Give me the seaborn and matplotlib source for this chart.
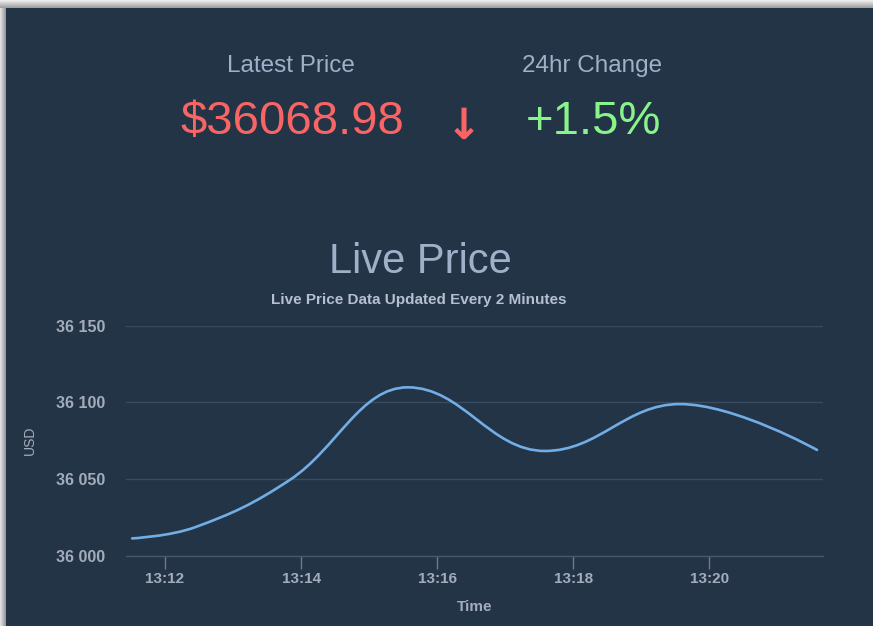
import numpy as np
import pandas as pd
import matplotlib
matplotlib.use("Agg")
import matplotlib.pyplot as plt
import matplotlib.dates as mdates
from matplotlib.path import Path
from matplotlib.patches import PathPatch, Rectangle
from matplotlib.ticker import FuncFormatter, MultipleLocator
import seaborn as sns

# ---- data ----
times = ["13:11:31", "13:12:27", "13:13:50", "13:15:34", "13:17:35", "13:19:34", "13:21:35"]
prices = [36011.3, 36018.7, 36049.4, 36109.8, 36068.3, 36098.9, 36068.98]
latest_price = 36068.98
change_24h = 1.5
y_ticks = [36000, 36050, 36100, 36150]

BG = "#243447"
LINE = "#72aee6"
TXT = "#a3acba"
HEAD = "#9fb0c8"

sns.set_theme(style="dark", rc={"axes.facecolor": BG, "figure.facecolor": "#d4d4d4"})
plt.rcParams["font.family"] = ["Liberation Sans", "DejaVu Sans"]


def spline_path(xs, ys, smoothing=1.5):
    """Highcharts-style spline as cubic Bezier segments."""
    n = len(xs)
    lc, rc = [None] * n, [None] * n
    d = smoothing + 1
    for i in range(1, n - 1):
        lx = (smoothing * xs[i] + xs[i - 1]) / d
        ly = (smoothing * ys[i] + ys[i - 1]) / d
        rx = (smoothing * xs[i] + xs[i + 1]) / d
        ry = (smoothing * ys[i] + ys[i + 1]) / d
        if rx != lx:
            corr = (ry - ly) * (rx - xs[i]) / (rx - lx) + ys[i] - ry
            ly += corr; ry += corr
        if ly > ys[i - 1] and ly > ys[i]:
            ly = max(ys[i - 1], ys[i]); ry = 2 * ys[i] - ly
        elif ly < ys[i - 1] and ly < ys[i]:
            ly = min(ys[i - 1], ys[i]); ry = 2 * ys[i] - ly
        if ry > ys[i + 1] and ry > ys[i]:
            ry = max(ys[i + 1], ys[i]); ly = 2 * ys[i] - ry
        elif ry < ys[i + 1] and ry < ys[i]:
            ry = min(ys[i + 1], ys[i]); ly = 2 * ys[i] - ry
        lc[i], rc[i] = (lx, ly), (rx, ry)
    verts, codes = [(xs[0], ys[0])], [Path.MOVETO]
    for i in range(1, n):
        verts += [rc[i - 1] or (xs[i - 1], ys[i - 1]), lc[i] or (xs[i], ys[i]), (xs[i], ys[i])]
        codes += [Path.CURVE4] * 3
    return Path(verts, codes)


df = pd.DataFrame({"time": pd.to_datetime(["2021-06-01 " + t for t in times]), "price": prices})
xnum = mdates.date2num(df["time"].dt.to_pydatetime())

W, H = 873, 626
fig = plt.figure(figsize=(W / 100, H / 100), dpi=100)

# shadowed frame + dark panel
top_shades = np.linspace(0.93, 0.62, 8)
for i, g in enumerate(top_shades):
    fig.patches.append(Rectangle((0, 1 - (i + 1) / H), 1, 1 / H, transform=fig.transFigure,
                                 facecolor=str(g), edgecolor="none", zorder=-3))
left_shades = np.linspace(0.88, 0.6, 6)
for j, g in enumerate(left_shades):
    fig.patches.append(Rectangle((j / W, 0), 1 / W, 1 - 8 / H, transform=fig.transFigure,
                                 facecolor=str(g), edgecolor="none", zorder=-2))
fig.patches.append(Rectangle((6 / W, 0), 1, 1 - 8 / H, transform=fig.transFigure,
                             facecolor=BG, edgecolor="none", zorder=-1))

# header
fig.text(291 / W, 1 - 71.7 / H, "Latest Price", ha="center", va="baseline", fontsize=17.5, color=HEAD)
fig.text(592.5 / W, 1 - 71.7 / H, "24hr Change", ha="center", va="baseline", fontsize=17.5, color=HEAD)
fig.text(292 / W, 1 - 134 / H, f"${latest_price:.2f}", ha="center", va="baseline",
         fontsize=34, color="#f96565")
fig.text(464 / W, 1 - 139 / H, "\u2193", ha="center", va="baseline", fontsize=31,
         fontweight="bold", family=["DejaVu Sans"], color="#f96565")
fig.text(593 / W, 1 - 134 / H, f"+{change_24h}%", ha="center", va="baseline",
         fontsize=34, color="#88f58a")
fig.text(420 / W, 1 - 273.3 / H, "Live Price", ha="center", va="baseline", fontsize=30, color=HEAD)
fig.text(419 / W, 1 - 304 / H, "Live Price Data Updated Every 2 Minutes", ha="center",
         va="baseline", fontsize=11, fontweight="bold", color="#b4bfcf")

# chart
ax = fig.add_axes([125.7 / W, 1 - 555.7 / H, (823 - 125.7) / W, (555.7 - 325.7) / H])
ax.set_facecolor(BG)
ax.add_patch(PathPatch(spline_path(list(xnum), prices), facecolor="none",
                       edgecolor=LINE, linewidth=1.9, capstyle="round", zorder=3))

ax.set_ylim(y_ticks[0], y_ticks[-1])
ax.yaxis.set_major_locator(MultipleLocator(50))
ax.yaxis.set_major_formatter(FuncFormatter(lambda v, p: f"{int(v):,}".replace(",", " ")))
ax.set_xlim(mdates.date2num(pd.Timestamp("2021-06-01 13:11:25.3")),
            mdates.date2num(pd.Timestamp("2021-06-01 13:21:40.3")))
ax.xaxis.set_major_locator(mdates.MinuteLocator(byminute=range(0, 60, 2)))
ax.xaxis.set_major_formatter(mdates.DateFormatter("%H:%M"))

ax.grid(axis="y", color="#3a4a5f", linewidth=1)
ax.grid(axis="x", visible=False)
sns.despine(ax=ax, left=True, top=True, right=True, bottom=False)
ax.spines["bottom"].set_color("#46566b")
ax.spines["bottom"].set_linewidth(1)
ax.tick_params(axis="y", length=0, pad=14.5, labelsize=11.5, labelcolor=TXT)
ax.tick_params(axis="x", length=9.5, width=1, color="#77787a", pad=2, labelsize=11, labelcolor=TXT,
               bottom=True)
for lab in ax.get_xticklabels() + ax.get_yticklabels():
    lab.set_fontweight("bold")

ax.set_ylabel("USD", fontsize=10, color=TXT)
ax.yaxis.set_label_coords(-0.127, 0.5)
ax.set_xlabel("Time", fontsize=11, fontweight="bold", color=TXT)
ax.xaxis.set_label_coords(0.5, -0.193)

fig.savefig("out.png", dpi=100, facecolor=fig.get_facecolor())
